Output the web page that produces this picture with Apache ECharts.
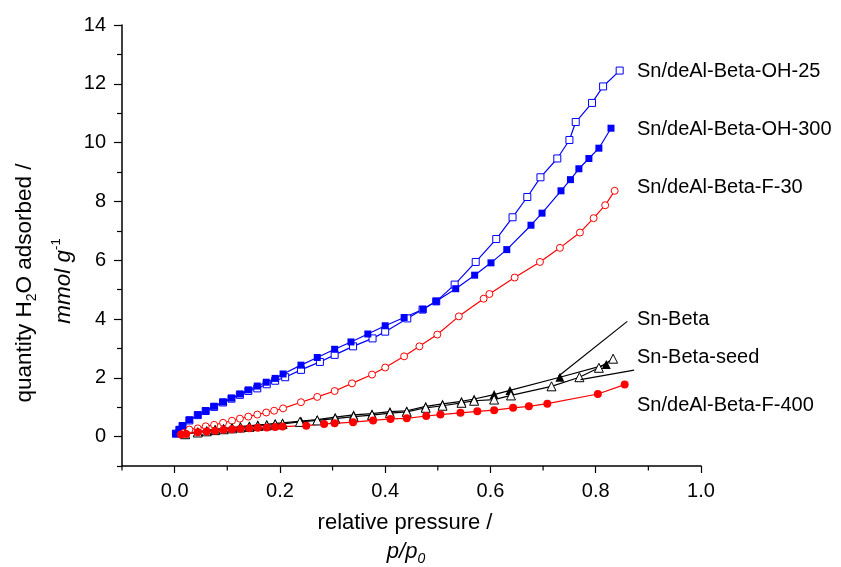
<!DOCTYPE html>
<html>
<head>
<meta charset="utf-8">
<script src="https://cdn.jsdelivr.net/npm/echarts@6/dist/echarts.min.js"></script>
<style>html,body{margin:0;padding:0;background:#fff;}#c{width:841px;height:567px;}</style>
</head>
<body>
<div id="c"></div>
<script>
// ---- data ----
const oh25X = [0.0025,0.009,0.015,0.028,0.044,0.059,0.075,0.092,0.108,0.124,0.140,0.157,0.175,0.191,0.210,0.240,0.276,0.304,0.339,0.376,0.400,0.442,0.471,0.497,0.532,0.572,0.611,0.642,0.670,0.695,0.727,0.750,0.762,0.793,0.814,0.8455];
const oh25Y = [0.10,0.23,0.36,0.55,0.73,0.87,1.01,1.16,1.29,1.42,1.55,1.64,1.78,1.90,2.02,2.27,2.54,2.78,3.07,3.34,3.57,4.02,4.32,4.60,5.17,5.94,6.72,7.46,8.15,8.82,9.46,10.09,10.70,11.35,11.91,12.45];
const oh300X = [0.0025,0.009,0.015,0.028,0.044,0.059,0.075,0.092,0.108,0.124,0.140,0.157,0.174,0.191,0.206,0.240,0.271,0.304,0.335,0.367,0.400,0.436,0.472,0.497,0.534,0.570,0.601,0.631,0.677,0.698,0.734,0.752,0.768,0.787,0.806,0.829];
const oh300Y = [0.10,0.24,0.37,0.57,0.74,0.88,1.03,1.18,1.31,1.45,1.59,1.72,1.85,1.98,2.13,2.43,2.69,2.97,3.22,3.49,3.77,4.05,4.33,4.60,5.03,5.49,5.91,6.36,7.19,7.60,8.36,8.74,9.11,9.46,9.81,10.49];
const f30X = [0.018,0.028,0.044,0.059,0.075,0.092,0.109,0.124,0.140,0.157,0.174,0.189,0.206,0.240,0.271,0.304,0.337,0.375,0.400,0.436,0.465,0.499,0.540,0.587,0.598,0.646,0.694,0.732,0.770,0.796,0.818,0.836];
const f30Y = [0.13,0.24,0.28,0.35,0.40,0.47,0.54,0.61,0.68,0.75,0.82,0.88,0.96,1.17,1.35,1.55,1.81,2.11,2.35,2.73,3.07,3.47,4.09,4.69,4.85,5.41,5.94,6.42,6.94,7.43,7.87,8.36];
const snBetaX = [0.020,0.044,0.061,0.077,0.093,0.109,0.125,0.142,0.158,0.175,0.191,0.205,0.240,0.271,0.305,0.340,0.375,0.409,0.441,0.477,0.509,0.545,0.569,0.607,0.637,0.732,0.820];
const snBetaY = [0.10,0.17,0.21,0.25,0.28,0.31,0.34,0.37,0.40,0.42,0.45,0.47,0.53,0.58,0.66,0.74,0.78,0.85,0.88,1.03,1.11,1.20,1.28,1.43,1.57,2.02,2.45];
const seedX = [0.020,0.044,0.061,0.077,0.093,0.109,0.125,0.142,0.158,0.175,0.191,0.205,0.238,0.271,0.305,0.340,0.375,0.409,0.441,0.477,0.509,0.545,0.569,0.607,0.639,0.716,0.769,0.806,0.833];
const seedY = [0.08,0.14,0.18,0.22,0.25,0.28,0.31,0.33,0.36,0.38,0.41,0.43,0.50,0.55,0.61,0.68,0.73,0.80,0.84,0.98,1.05,1.15,1.22,1.26,1.40,1.71,2.02,2.34,2.65];
const f400X = [0.012,0.022,0.044,0.061,0.077,0.093,0.109,0.125,0.142,0.158,0.175,0.191,0.205,0.250,0.284,0.304,0.339,0.377,0.410,0.441,0.478,0.505,0.543,0.575,0.607,0.643,0.673,0.708,0.804,0.855];
const f400Y = [0.07,0.09,0.15,0.17,0.20,0.23,0.25,0.27,0.28,0.30,0.31,0.33,0.34,0.37,0.43,0.45,0.49,0.55,0.60,0.62,0.70,0.75,0.81,0.86,0.90,0.98,1.03,1.12,1.45,1.77];
const pointerSnBeta = [[0.860,3.92],[0.729,2.05]];
const pointerSeed = [[0.873,2.26],[0.771,1.94]];
const seriesNames = ['Sn/deAl-Beta-OH-25','Sn/deAl-Beta-OH-300','Sn/deAl-Beta-F-30','Sn-Beta','Sn-Beta-seed','Sn/deAl-Beta-F-400'];
const xLabelTicks = [0,0.2,0.4,0.6,0.8,1.0];
const xMinorTicks = [-0.1,0.1,0.3,0.5,0.7,0.9];
const yLabelTicks = [0,2,4,6,8,10,12,14];
const yMinorTicks = [-1,1,3,5,7,9,11,13];

const zip = (xs, ys) => xs.map((x, i) => [x, ys[i]]);
const FONT = "'Liberation Sans', Arial, sans-serif";
const BLUE = '#0000ff', RED = '#ff0000', BLACK = '#000000';
const Y_MIN = -1;

function mk(name, xs, ys, color, symbol, size, filled) {
  return {
    name, type: 'line', data: zip(xs, ys), symbol, symbolSize: size,
    showAllSymbol: true, animation: false,
    lineStyle: { color, width: 1.2 },
    itemStyle: filled ? { color, borderWidth: 0 } : { color: '#fff', borderColor: color, borderWidth: 1 },
    z: 3
  };
}
function pointer(d) {
  return { type: 'line', data: d, symbol: 'none', silent: true, animation: false,
    lineStyle: { color: BLACK, width: 1.2 }, z: 4 };
}

const chart = echarts.init(document.getElementById('c'), null, { renderer: 'canvas' });
const yBase = { type: 'value', min: Y_MIN, max: 14, position: 'left', splitLine: { show: false } };
chart.setOption({
  animation: false,
  backgroundColor: '#fff',
  grid: { left: 122, right: 140, top: 25, bottom: 101, containLabel: false },
  xAxis: {
    type: 'value', min: -0.1, max: 1.0, position: 'bottom', splitLine: { show: false },
    axisLine: { show: true, onZero: false, lineStyle: { color: BLACK, width: 1.5 } },
    axisTick: { show: true, customValues: xLabelTicks, length: 7, inside: false, lineStyle: { color: BLACK, width: 1.2 } },
    axisLabel: { show: true, customValues: xLabelTicks, margin: 15, color: BLACK, fontSize: 20, fontFamily: FONT,
      formatter: v => v.toFixed(1) }
  },
  yAxis: [
    Object.assign({}, yBase, {
      axisLine: { show: true, onZero: false, lineStyle: { color: BLACK, width: 1.5 } },
      axisTick: { show: true, customValues: yLabelTicks, length: 8, inside: false, lineStyle: { color: BLACK, width: 1.2 } },
      axisLabel: { show: true, customValues: yLabelTicks, margin: 16, color: BLACK, fontSize: 20, fontFamily: FONT }
    }),
    Object.assign({}, yBase, {
      axisLine: { show: false, onZero: false },
      axisTick: { show: true, customValues: yMinorTicks, length: 5, inside: false, lineStyle: { color: BLACK, width: 1.2 } },
      axisLabel: { show: false }
    })
  ],
  series: [
    {
      type: 'custom', silent: true, clip: false, animation: false, z: 5,
      data: xMinorTicks.map(v => [v, Y_MIN]),
      renderItem: function (params, api) {
        const p = api.coord([api.value(0), api.value(1)]);
        return { type: 'line', shape: { x1: p[0], y1: p[1], x2: p[0], y2: p[1] + 4.5 },
          style: { stroke: BLACK, lineWidth: 1.2 } };
      }
    },
    pointer(pointerSnBeta),
    pointer(pointerSeed),
    mk(seriesNames[0], oh25X, oh25Y, BLUE, 'rect', 7, false),
    mk(seriesNames[1], oh300X, oh300Y, BLUE, 'rect', 7, true),
    mk(seriesNames[2], f30X, f30Y, RED, 'circle', 7, false),
    mk(seriesNames[3], snBetaX, snBetaY, BLACK, 'triangle', 9, true),
    mk(seriesNames[4], seedX, seedY, BLACK, 'triangle', 9, false),
    mk(seriesNames[5], f400X, f400Y, RED, 'circle', 8, true)
  ],
  graphic: [
    { type: 'text', x: 637, y: 71, style: { text: seriesNames[0], font: '20px ' + FONT, fill: BLACK, verticalAlign: 'middle' } },
    { type: 'text', x: 637, y: 129, style: { text: seriesNames[1], font: '20px ' + FONT, fill: BLACK, verticalAlign: 'middle' } },
    { type: 'text', x: 637, y: 187, style: { text: seriesNames[2], font: '20px ' + FONT, fill: BLACK, verticalAlign: 'middle' } },
    { type: 'text', x: 637, y: 319, style: { text: seriesNames[3], font: '20px ' + FONT, fill: BLACK, verticalAlign: 'middle' } },
    { type: 'text', x: 637, y: 357, style: { text: seriesNames[4], font: '20px ' + FONT, fill: BLACK, verticalAlign: 'middle' } },
    { type: 'text', x: 637, y: 405, style: { text: seriesNames[5], font: '20px ' + FONT, fill: BLACK, verticalAlign: 'middle' } },
    { type: 'text', x: 405, y: 523, style: { text: 'relative pressure /', font: '22px ' + FONT, fill: BLACK, align: 'center', verticalAlign: 'middle' } },
    { type: 'text', x: 406, y: 552, style: {
        text: '{i|p/p}{s|0}', align: 'center', verticalAlign: 'middle', fill: BLACK,
        rich: {
          i: { fontSize: 22, fontStyle: 'italic', fontFamily: FONT, lineHeight: 28, verticalAlign: 'middle' },
          s: { fontSize: 14, fontStyle: 'italic', fontFamily: FONT, lineHeight: 28, verticalAlign: 'bottom' }
        } } },
    { type: 'text', x: 25, y: 283, rotation: Math.PI / 2, style: {
        text: 'quantity H{s|2}O adsorbed /', align: 'center', verticalAlign: 'middle', fill: BLACK,
        font: '22.5px ' + FONT,
        rich: {
          s: { fontSize: 14, fontFamily: FONT, lineHeight: 28, verticalAlign: 'bottom' }
        } } },
    { type: 'text', x: 64, y: 281, rotation: Math.PI / 2, style: {
        text: '{i|mmol g}{p|-1}', align: 'center', verticalAlign: 'middle', fill: BLACK,
        rich: {
          i: { fontSize: 22.5, fontStyle: 'italic', fontFamily: FONT, lineHeight: 28, verticalAlign: 'middle' },
          p: { fontSize: 13, fontFamily: FONT, lineHeight: 28, verticalAlign: 'top' }
        } } }
  ]
});
</script>
</body>
</html>
